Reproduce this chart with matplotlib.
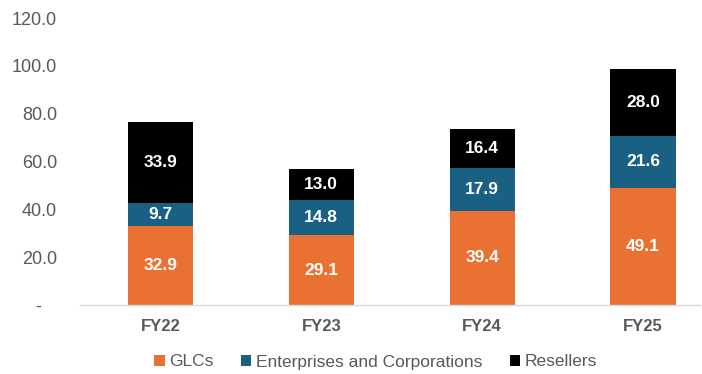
import matplotlib
matplotlib.use("Agg")
import matplotlib.pyplot as plt
import numpy as np

# ── Data ──────────────────────────────────────────────────────────────────────
years = ["FY22", "FY23", "FY24", "FY25"]
glcs = [32.9, 29.1, 39.4, 49.1]
enterprises = [9.7, 14.8, 17.9, 21.6]
resellers = [33.9, 13.0, 16.4, 28.0]
yticks = [0, 20, 40, 60, 80, 100, 120]
ytick_labels = ["-   ", "20.0", "40.0", "60.0", "80.0", "100.0", "120.0"]

series = [
    ("GLCs", glcs, "#E97132"),
    ("Enterprises and Corporations", enterprises, "#196082"),
    ("Resellers", resellers, "#000000"),
]

plt.rcParams["font.family"] = ["Liberation Sans", "DejaVu Sans"]

fig = plt.figure(figsize=(7.02, 3.74), dpi=100)
ax = fig.add_axes([80 / 702, 69 / 374, 620 / 702, 287 / 374])

x = np.arange(len(years))
bottom = np.zeros(len(years))
for name, vals, color in series:
    vals = np.array(vals)
    ax.bar(x, vals, 0.405, bottom=bottom, color=color, label=name, zorder=2)
    for xi, b, v in zip(x, bottom, vals):
        ax.text(xi, b + v / 2, f"{v:.1f}", ha="center", va="center",
                color="white", fontsize=12.5, fontweight="bold")
    bottom += vals

ax.set_xlim(-0.5, 3.354)
ax.set_ylim(0, 120)
ax.set_yticks(yticks)
ax.set_yticklabels(ytick_labels)
ax.set_xticks(x)
ax.set_xticklabels(years, fontweight="bold")
ax.tick_params(axis="y", length=0, labelsize=13, labelcolor="#595959", pad=16.5)
ax.tick_params(axis="x", length=0, labelsize=12, labelcolor="#595959", pad=10)

for side in ("top", "right", "left"):
    ax.spines[side].set_visible(False)
ax.spines["bottom"].set_color("#D9D9D9")
ax.spines["bottom"].set_linewidth(1.0)

fig.legend(loc="center", bbox_to_anchor=(0.535, 12 / 374), ncol=3, frameon=False,
           fontsize=12.5, handlelength=0.6, handleheight=0.6, handletextpad=0.25,
           columnspacing=1.6, labelcolor="#595959")

fig.savefig("out.png", dpi=100)
